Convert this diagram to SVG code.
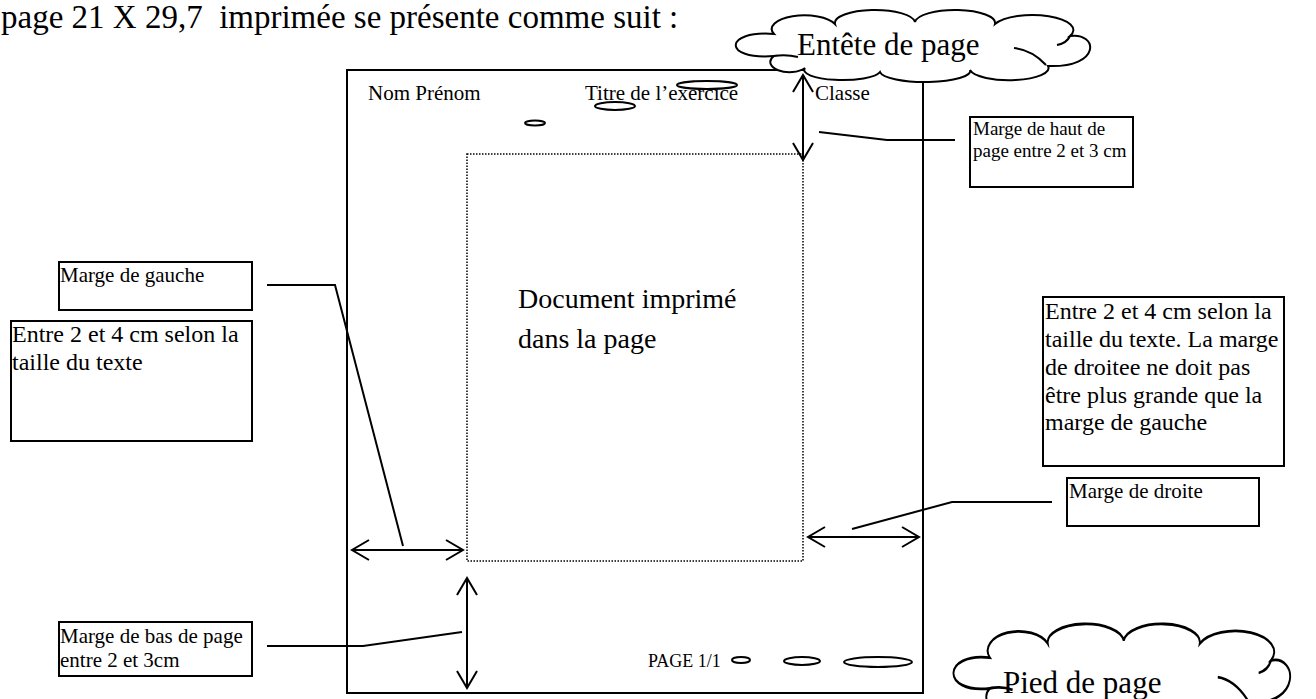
<svg xmlns="http://www.w3.org/2000/svg" width="1316" height="699" viewBox="0 0 1316 699">
<style>
.t{font-family:"Liberation Serif","Times New Roman",serif;fill:#000}
.box{fill:#fff;stroke:#000;stroke-width:2}
.ln{fill:none;stroke:#000;stroke-width:2}
.arr{fill:none;stroke:#000;stroke-width:2;marker-start:url(#ah);marker-end:url(#ah)}
.cl{fill:#fff;stroke:#000;stroke-width:2;vector-effect:non-scaling-stroke}
.ci{fill:none;stroke:#000;stroke-width:2;vector-effect:non-scaling-stroke}
.bub{fill:#fff;stroke:#000;stroke-width:2}
</style>
<defs>
<marker id="ah" viewBox="0 0 20 22" refX="18" refY="11" markerWidth="20" markerHeight="22" markerUnits="userSpaceOnUse" orient="auto-start-reverse">
<path d="M1,1 L18,11 L1,21" fill="none" stroke="#000" stroke-width="2"/>
</marker>
<path id="cloud" d="M44,46 C-8,50 -6,20 44,24 A31,13 0 0 1 105,14 A40,13 0 0 1 185,12 A40,13 0 0 1 265,14 A38,14 0 0 1 340,26 C368,22 372,58 318,56 A39,12 0 0 1 240,60 A45,11 0 0 1 150,62 A38,10 0 0 1 75,58 A17,9 0 0 1 44,46 Z"/>
<path id="cloudin" d="M44,46 Q56,44 68,47 M284,38 Q302,40 316,55 M340,26 Q337,33 327,35"/>
</defs>

<text class="t" x="1" y="28" font-size="33" xml:space="preserve">page 21 X 29,7  imprimée se présente comme suit :</text>

<g id="page">
<rect x="347" y="70" width="576" height="623" fill="none" stroke="#000" stroke-width="2"/>
<rect x="467" y="154" width="336" height="407" fill="none" stroke="#000" stroke-width="1.5" stroke-dasharray="1.5,1.5"/>
<text class="t" x="368" y="100" font-size="21">Nom Prénom</text>
<text class="t" x="585" y="100" font-size="21">Titre de l’exercice</text>
<text class="t" x="815" y="100" font-size="21">Classe</text>
<text class="t" x="518" y="308" font-size="28">Document imprimé</text>
<text class="t" x="518" y="348" font-size="28">dans la page</text>
<text class="t" x="648" y="667" font-size="18">PAGE 1/1</text>
</g>

<g id="connectors">
<line class="arr" x1="803" y1="75" x2="803" y2="160"/>
<line class="arr" x1="352" y1="550" x2="463" y2="550"/>
<line class="arr" x1="808" y1="537" x2="919" y2="537"/>
<line class="arr" x1="467" y1="578" x2="467" y2="688"/>
<polyline class="ln" points="819,132 887,140 955,140"/>
<polyline class="ln" points="267,285 335,285 403,546"/>
<polyline class="ln" points="852,529 952,502 1052,502"/>
<polyline class="ln" points="267,646 363,646 462,632"/>
</g>

<g id="box-haut">
<rect class="box" x="970" y="117" width="163" height="70"/>
<text class="t" x="973" y="135" font-size="19">Marge de haut de</text>
<text class="t" x="973" y="157" font-size="19">page entre 2 et 3 cm</text>
</g>

<g id="box-gauche">
<rect class="box" x="59" y="262" width="193" height="48"/>
<text class="t" x="60" y="282" font-size="21">Marge de gauche</text>
</g>

<g id="box-gauche-texte">
<rect class="box" x="11" y="321" width="241" height="120"/>
<text class="t" x="12" y="342" font-size="24">Entre 2 et 4 cm selon la</text>
<text class="t" x="12" y="370" font-size="24">taille du texte</text>
</g>

<g id="box-droite-texte">
<rect class="box" x="1043" y="297" width="241" height="169"/>
<text class="t" x="1045" y="319" font-size="24">Entre 2 et 4 cm selon la</text>
<text class="t" x="1045" y="347" font-size="24">taille du texte. La marge</text>
<text class="t" x="1045" y="375" font-size="24">de droitee ne doit pas</text>
<text class="t" x="1045" y="403" font-size="24">être plus grande que la</text>
<text class="t" x="1045" y="430" font-size="24">marge de gauche</text>
</g>

<g id="box-droite">
<rect class="box" x="1067" y="478" width="192" height="48"/>
<text class="t" x="1069" y="498" font-size="21">Marge de droite</text>
</g>

<g id="box-bas">
<rect class="box" x="59" y="622" width="193" height="54"/>
<text class="t" x="60" y="643" font-size="21">Marge de bas de page</text>
<text class="t" x="60" y="667" font-size="21">entre 2 et 3cm</text>
</g>

<g id="cloud-entete">
<ellipse class="bub" cx="535" cy="123" rx="10" ry="2.5"/>
<ellipse class="bub" cx="615" cy="106" rx="20" ry="4"/>
<ellipse class="bub" cx="707" cy="85" rx="30" ry="4"/>
<g transform="translate(730,10)">
<use href="#cloud" class="cl"/>
<use href="#cloudin" class="ci"/>
</g>
<text class="t" x="797" y="55" font-size="31">Entête de page</text>
</g>

<g id="cloud-pied">
<ellipse class="bub" cx="741" cy="660" rx="9" ry="3"/>
<ellipse class="bub" cx="802" cy="661" rx="18" ry="4"/>
<ellipse class="bub" cx="878" cy="662" rx="34" ry="5"/>
<g transform="translate(948,624) scale(0.95,1.4)">
<use href="#cloud" class="cl"/>
<use href="#cloudin" class="ci"/>
</g>
<text class="t" x="1003" y="693" font-size="31">Pied de page</text>
</g>
</svg>
